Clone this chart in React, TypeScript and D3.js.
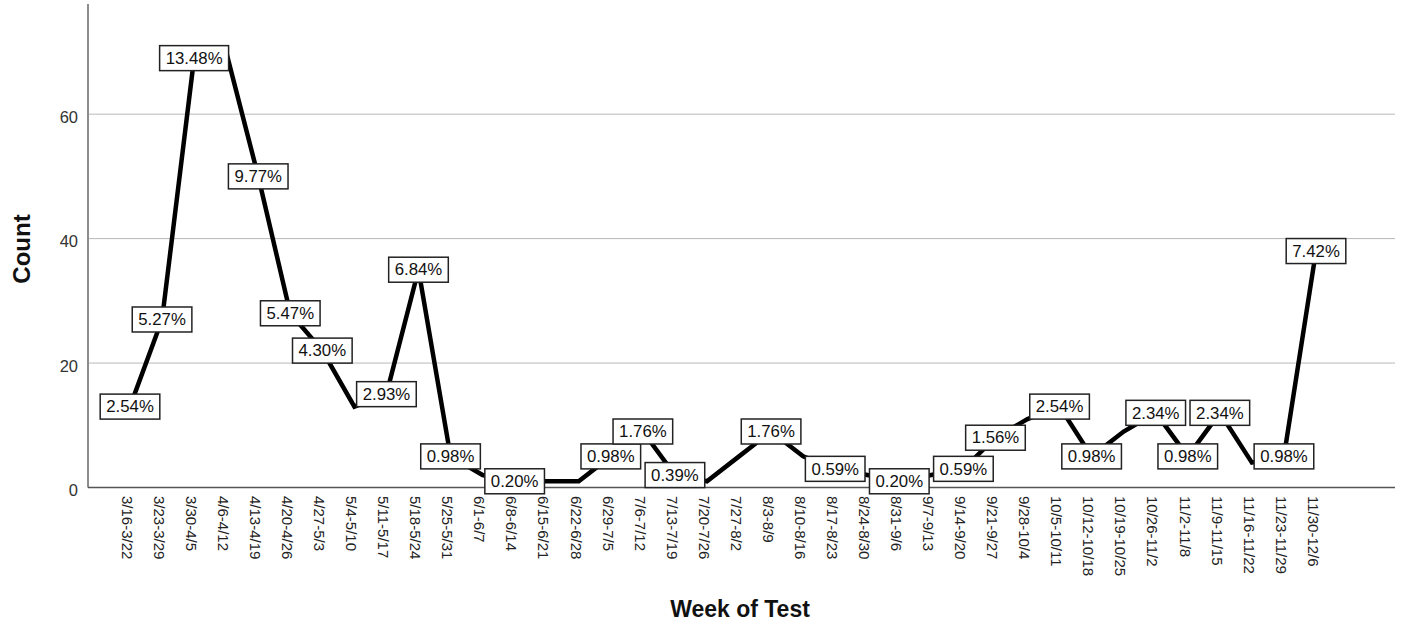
import React from "react";
import * as d3 from "d3";

const weeks: string[] = [
  "3/16-3/22", "3/23-3/29", "3/30-4/5", "4/6-4/12", "4/13-4/19", "4/20-4/26",
  "4/27-5/3", "5/4-5/10", "5/11-5/17", "5/18-5/24", "5/25-5/31", "6/1-6/7",
  "6/8-6/14", "6/15-6/21", "6/22-6/28", "6/29-7/5", "7/6-7/12", "7/13-7/19",
  "7/20-7/26", "7/27-8/2", "8/3-8/9", "8/10-8/16", "8/17-8/23", "8/24-8/30",
  "8/31-9/6", "9/7-9/13", "9/14-9/20", "9/21-9/27", "9/28-10/4", "10/5-10/11",
  "10/12-10/18", "10/19-10/25", "10/26-11/2", "11/2-11/8", "11/9-11/15",
  "11/16-11/22", "11/23-11/29", "11/30-12/6",
];

const counts: number[] = [
  13, 27, 69, 70, 50, 28, 22, 13, 15, 35, 5, 2, 1, 1, 1, 5, 9, 2, 1, 5, 9, 5,
  3, 2, 1, 2, 3, 8, 11, 13, 5, 9, 12, 5, 12, 4, 5, 38,
];

// weeks whose percentage label is suppressed (overlap) in the original
const hiddenLabels: string[] = [
  "4/6-4/12", "5/4-5/10", "6/1-6/7", "6/15-6/21", "6/22-6/28", "7/20-7/26",
  "7/27-8/2", "8/10-8/16", "8/24-8/30", "9/7-9/13", "9/28-10/4",
  "10/19-10/25", "11/16-11/22",
];

const totalN = 512;
const yTicks: number[] = [0, 20, 40, 60];
const yMax = 77.7;

const W = 1405;
const H = 628;

// Arial / Liberation Sans advance widths (em)
const charW: Record<string, number> = {
  "0": 0.556, "1": 0.556, "2": 0.556, "3": 0.556, "4": 0.556, "5": 0.556,
  "6": 0.556, "7": 0.556, "8": 0.556, "9": 0.556, ".": 0.278, "%": 0.889,
};
const textWidth = (s: string, size: number) =>
  s.split("").reduce((a, c) => a + (charW[c] ?? 0.556), 0) * size;

export default function App() {
  const x = d3.scalePoint<string>().domain(weeks).range([130, 1316]);
  const y = d3.scaleLinear().domain([0, yMax]).range([487.5, 4]);
  const plotLeft = 88;
  const plotRight = 1395;

  const data = weeks.map((w, i) => ({ w, c: counts[i] }));
  const line = d3
    .line<{ w: string; c: number }>()
    .x((d) => x(d.w) as number)
    .y((d) => y(d.c));

  const labelFont = 16;
  const labelSX = 1.05;

  return (
    <svg
      width={W}
      height={H}
      style={{ position: "absolute", left: 0, top: 0, background: "#fff" }}
      fontFamily="'Liberation Sans', Arial, sans-serif"
    >
      <rect x={0} y={0} width={W} height={H} fill="#fff" />
      {/* gridlines */}
      {yTicks
        .filter((t) => t > 0)
        .map((t) => (
          <line
            key={"g" + t}
            x1={plotLeft}
            x2={plotRight}
            y1={y(t)}
            y2={y(t)}
            stroke="#b8b8b8"
            strokeWidth={1}
          />
        ))}
      {/* y axis */}
      <line x1={plotLeft} x2={plotLeft} y1={y(yMax)} y2={y(0)} stroke="#8c8c8c" strokeWidth={2} />
      {/* x axis */}
      <line x1={plotLeft} x2={plotRight} y1={y(0)} y2={y(0)} stroke="#555" strokeWidth={1.5} />
      {/* y tick labels */}
      {yTicks.map((t) => (
        <text
          key={"yt" + t}
          x={78}
          y={y(t) + 3}
          dy="0.35em"
          textAnchor="end"
          fontSize={16.5}
          fill="#333"
        >
          {t}
        </text>
      ))}
      {/* x tick labels */}
      {weeks.map((w) => (
        <text
          key={"xt" + w}
          transform={`translate(${(x(w) as number) - 3},496) rotate(90)`}
          dy="0.35em"
          textAnchor="start"
          fontSize={15}
          fill="#222"
        >
          {w}
        </text>
      ))}
      {/* line */}
      <path
        d={line(data) ?? ""}
        fill="none"
        stroke="#000"
        strokeWidth={4.5}
        strokeLinejoin="miter"
      />
      {/* data labels */}
      {data
        .filter((d) => !hiddenLabels.includes(d.w))
        .map((d) => {
          const label = ((d.c / totalN) * 100).toFixed(2) + "%";
          const tw = textWidth(label, labelFont) * labelSX;
          const bw = tw + 12;
          const bh = 25;
          const cx = x(d.w) as number;
          const cy = y(d.c);
          return (
            <g key={"lb" + d.w} transform={`translate(${cx},${cy})`}>
              <rect
                x={-bw / 2}
                y={-bh / 2}
                width={bw}
                height={bh}
                fill="#fff"
                stroke="#222"
                strokeWidth={1.5}
              />
              <text
                transform={`scale(${labelSX},1)`}
                x={0}
                y={0}
                dy="0.36em"
                textAnchor="middle"
                fontSize={labelFont}
                fill="#111"
              >
                {label}
              </text>
            </g>
          );
        })}
      {/* axis titles */}
      <text
        transform={`translate(30,${249}) rotate(-90)`}
        textAnchor="middle"
        fontSize={24}
        fontWeight="bold"
        fill="#111"
      >
        Count
      </text>
      <text
        x={740}
        y={617}
        textAnchor="middle"
        fontSize={23}
        fontWeight="bold"
        fill="#111"
      >
        Week of Test
      </text>
    </svg>
  );
}
